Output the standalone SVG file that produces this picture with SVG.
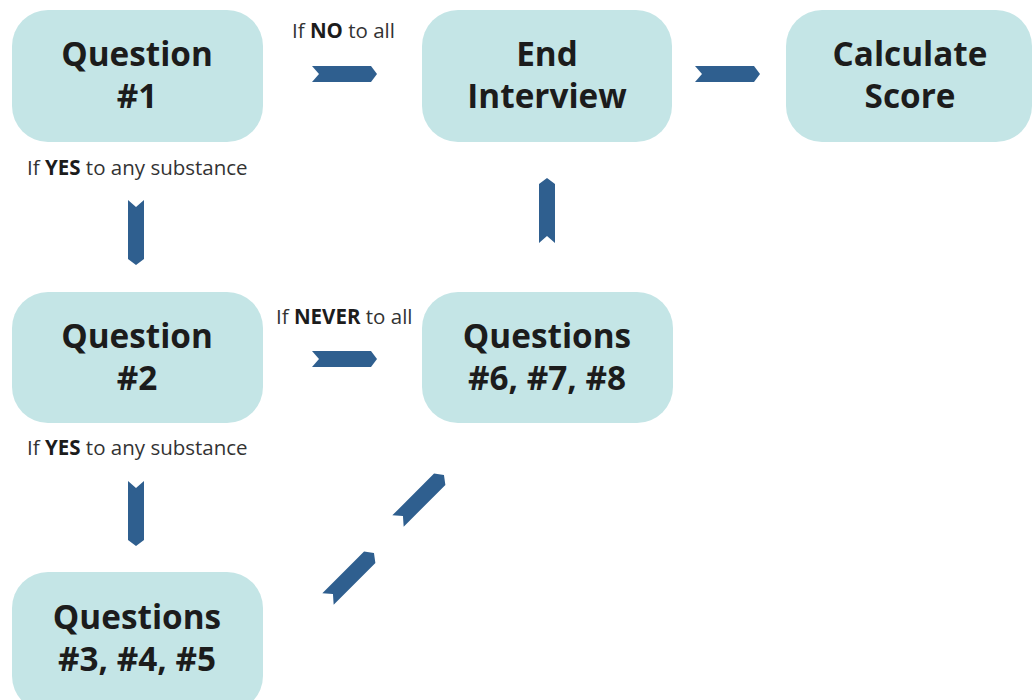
<svg xmlns="http://www.w3.org/2000/svg" width="1036" height="700" viewBox="0 0 1036 700">
<defs>
<style>
.box{fill:#c4e5e6}
.title{font-family:"Open Sans","Noto Sans",sans-serif;font-weight:700;font-size:33.3px;fill:#1c1c1c;text-anchor:middle}
.lbl{font-family:"Open Sans","Noto Sans",sans-serif;font-size:20.5px;fill:#333333}
.lbl tspan.b{font-weight:700;fill:#1c1c1c}
.arr{fill:#2f5f8f}
</style>
<path id="chev" d="M0,-8 L59,-8 L65,0 L59,8 L0,8 L7,0 Z"/>
</defs>
<rect width="1036" height="700" fill="#ffffff"/>
<g id="q1"><rect class="box" x="12" y="10" width="251" height="132" rx="36"/><text class="title" x="137" y="66">Question</text><text class="title" x="137" y="108">#1</text></g>
<g id="end"><rect class="box" x="422" y="10" width="250" height="132" rx="36"/><text class="title" x="547" y="66">End</text><text class="title" x="547" y="108">Interview</text></g>
<g id="calc"><rect class="box" x="786" y="10" width="246" height="132" rx="36"/><text class="title" x="910" y="66">Calculate</text><text class="title" x="910" y="108">Score</text></g>
<g id="q2"><rect class="box" x="12" y="292" width="251" height="131" rx="36"/><text class="title" x="137" y="348">Question</text><text class="title" x="137" y="390">#2</text></g>
<g id="q678"><rect class="box" x="422" y="292" width="251" height="131" rx="36"/><text class="title" x="547" y="348">Questions</text><text class="title" x="547" y="390">#6, #7, #8</text></g>
<g id="q345"><rect class="box" x="12" y="572" width="251" height="140" rx="36"/><text class="title" x="137" y="629">Questions</text><text class="title" x="137" y="671">#3, #4, #5</text></g>
<g id="labels">
<text class="lbl" x="292" y="38">If <tspan class="b">NO</tspan> to all</text>
<text class="lbl" x="27" y="175">If <tspan class="b">YES</tspan> to any substance</text>
<text class="lbl" x="276" y="324">If <tspan class="b">NEVER</tspan> to all</text>
<text class="lbl" x="27" y="455">If <tspan class="b">YES</tspan> to any substance</text>
</g>
<g id="connectors" class="arr">
<use href="#chev" transform="translate(312,74)"/>
<use href="#chev" transform="translate(695,74)"/>
<use href="#chev" transform="translate(312,359)"/>
<use href="#chev" transform="translate(136,200) rotate(90)"/>
<use href="#chev" transform="translate(136,481) rotate(90)"/>
<use href="#chev" transform="translate(547,243) rotate(-90)"/>
<use href="#chev" transform="translate(328,599) rotate(-45)"/>
<use href="#chev" transform="translate(398,521) rotate(-45)"/>
</g>
</svg>
